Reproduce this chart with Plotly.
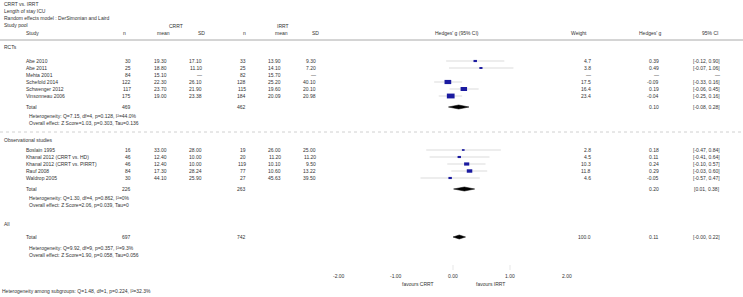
import plotly.graph_objects as go
import math

W, H = 743, 297

# ---------------- data ----------------
title_lines = ["CRRT vs. IRRT", "Length of stay ICU", "Random effects model : DerSimonian and Laird"]

rct_studies = ["Abe 2010", "Abe 2011", "Mehta 2001", "Schefold 2014", "Schwenger 2012", "Vinsonneau 2006"]
rct_crrt_n = [30, 25, 84, 122, 117, 175]
rct_crrt_mean = [19.30, 18.80, 15.10, 22.30, 23.70, 19.00]
rct_crrt_sd = [17.10, 11.10, None, 26.10, 21.90, 23.38]
rct_irrt_n = [33, 25, 82, 128, 115, 184]
rct_irrt_mean = [13.90, 14.10, 15.70, 25.20, 19.60, 20.09]
rct_irrt_sd = [9.30, 7.20, None, 40.10, 20.10, 20.98]
rct_weight = [4.7, 3.8, None, 17.5, 16.4, 23.4]
rct_g = [0.39, 0.49, None, -0.09, 0.19, -0.04]
rct_lo = [-0.12, -0.07, None, -0.33, -0.06, -0.25]
rct_hi = [0.90, 1.06, None, 0.16, 0.45, 0.16]
rct_total = {"crrt_n": 469, "irrt_n": 462, "g": 0.10, "lo": -0.08, "hi": 0.28}
rct_het = "Heterogeneity: Q=7.15, df=4, p=0.128, I²=44.0%"
rct_eff = "Overall effect: Z Score=1.03, p=0.303, Tau=0.136"

obs_studies = ["Boslain 1995", "Khanal 2012 (CRRT vs. HD)", "Khanal 2012 (CRRT vs. PIRRT)", "Rauf 2008", "Waldrop 2005"]
obs_crrt_n = [16, 46, 46, 84, 30]
obs_crrt_mean = [33.00, 12.40, 12.40, 17.30, 44.10]
obs_crrt_sd = [28.00, 10.00, 10.00, 28.24, 25.90]
obs_irrt_n = [19, 20, 119, 77, 27]
obs_irrt_mean = [26.00, 11.20, 10.10, 10.60, 45.63]
obs_irrt_sd = [25.00, 11.20, 9.50, 13.22, 39.50]
obs_weight = [2.8, 4.5, 10.3, 11.8, 4.6]
obs_g = [0.18, 0.11, 0.24, 0.29, -0.05]
obs_lo = [-0.47, -0.41, -0.10, -0.03, -0.57]
obs_hi = [0.84, 0.64, 0.57, 0.60, 0.47]
obs_total = {"crrt_n": 226, "irrt_n": 263, "g": 0.20, "lo": 0.01, "hi": 0.38}
obs_het = "Heterogeneity: Q=1.30, df=4, p=0.862, I²=0%"
obs_eff = "Overall effect: Z Score=2.06, p=0.039, Tau=0"

all_total = {"crrt_n": 697, "irrt_n": 742, "weight": 100.0, "g": 0.11, "lo": -0.00, "hi": 0.22}
all_het = "Heterogeneity: Q=9.92, df=9, p=0.357, I²=9.3%"
all_eff = "Overall effect: Z Score=1.90, p=0.058, Tau=0.056"
subgroup_het = "Heterogeneity among subgroups: Q=1.48, df=1, p=0.224, I²=32.3%"

axis_ticks = [-2, -1, 0, 1, 2]
favour_labels = ["favours CRRT", "favours IRRT"]

# ---------------- layout helpers ----------------
FONT = "Liberation Sans, Arial, sans-serif"
FS = 5
TXT = "#333333"
PX0 = 453.0       # pixel of effect 0
PXU = 57.0        # pixels per unit effect

annotations = []
shapes = []


def txt(xp, yp, s, anchor="left", size=FS, color=TXT):
    annotations.append(dict(
        x=xp / W, xref="paper", y=yp, yref="y", text=s, showarrow=False,
        xanchor=anchor, yanchor="middle", font=dict(family=FONT, size=size, color=color)))


def f2(v):
    return "—" if v is None else f"{v:.2f}"


def f1(v):
    return "—" if v is None else f"{v:.1f}"


def fn(v):
    return "—" if v is None else str(v)


def ci(lo, hi):
    if lo is None:
        return "—"
    return f"[{lo:.2f}, {hi:.2f}]"


# column x positions (pixels)
C_STUDY = 24
C_N1, C_M1, C_S1 = 133, 169, 204
C_N2, C_M2, C_S2 = 248, 283, 318
C_W, C_G, C_CI = 593, 661, 722

# header
for i, t in enumerate(title_lines):
    txt(2, 4 + 7 * i, t)
txt(2, 25, "Study pool")
txt(176, 26, "CRRT", "center")
txt(283, 26, "IRRT", "center")
txt(C_STUDY, 33, "Study")
txt(C_N1 - 8, 33, "n", "center")
txt(C_M1 - 6, 33, "mean", "center")
txt(C_S1 - 3, 33, "SD", "center")
txt(C_N2 - 3, 33, "n", "center")
txt(C_M2 - 2, 33, "mean", "center")
txt(C_S2 - 3, 33, "SD", "center")
txt(457, 33, "Hedges' g (95% CI)", "center")
txt(579, 33, "Weight", "center")
txt(650, 33, "Hedges' g", "center")
txt(710, 33, "95% CI", "center")
shapes.append(dict(type="line", xref="paper", yref="y", x0=0, x1=1, y0=40, y1=40,
                   line=dict(color="#aaaaaa", width=1)))

fig = go.Figure()
ci_x, ci_y = [], []


def study_rows(names, cn, cm, cs, inn, im, isd, w, g, lo, hi, y0):
    for i, name in enumerate(names):
        y = y0 + 7 * i
        txt(C_STUDY, y, name)
        txt(C_N1, y, fn(cn[i]), "right")
        txt(C_M1, y, f2(cm[i]), "right")
        txt(C_S1, y, f2(cs[i]), "right")
        txt(C_N2, y, fn(inn[i]), "right")
        txt(C_M2, y, f2(im[i]), "right")
        txt(C_S2, y, f2(isd[i]), "right")
        txt(C_W, y, f1(w[i]), "right")
        txt(C_G, y, f2(g[i]), "right")
        txt(C_CI, y, ci(lo[i], hi[i]), "right")
        if g[i] is not None:
            ci_x.extend([lo[i], hi[i], None])
            ci_y.extend([y, y, None])
            half_w = 0.5 * 1.6 * math.sqrt(w[i]) / PXU
            half_h = 0.5 * 1.0 * math.sqrt(w[i])
            shapes.append(dict(type="rect", xref="x", yref="y",
                               x0=g[i] - half_w, x1=g[i] + half_w,
                               y0=y - half_h, y1=y + half_h,
                               line=dict(width=0), fillcolor="#1a1aa0", layer="above"))


def total_row(tot, y, weight=None):
    txt(C_STUDY, y, "Total")
    txt(C_N1, y, str(tot["crrt_n"]), "right")
    txt(C_N2, y, str(tot["irrt_n"]), "right")
    if weight is not None:
        txt(C_W, y, f1(weight), "right")
    txt(C_G, y, f2(tot["g"]), "right")
    txt(C_CI, y, ci(tot["lo"], tot["hi"]), "right")
    fig.add_trace(go.Scatter(
        x=[tot["lo"], tot["g"], tot["hi"], tot["g"], tot["lo"]],
        y=[y, y - 2, y, y + 2, y], fill="toself", fillcolor="#000000",
        mode="lines", line=dict(color="#000000", width=0.5), hoverinfo="skip"))


# RCTs
txt(2, 47, "RCTs")
study_rows(rct_studies, rct_crrt_n, rct_crrt_mean, rct_crrt_sd, rct_irrt_n, rct_irrt_mean,
           rct_irrt_sd, rct_weight, rct_g, rct_lo, rct_hi, 61)
total_row(rct_total, 107)
txt(27, 116, rct_het)
txt(27, 123, rct_eff)
shapes.append(dict(type="line", xref="paper", yref="y", x0=0, x1=1, y0=132, y1=132,
                   line=dict(color="#d0d0d0", width=1, dash="3px,3px")))

# Observational
txt(2, 140, "Observational studies")
study_rows(obs_studies, obs_crrt_n, obs_crrt_mean, obs_crrt_sd, obs_irrt_n, obs_irrt_mean,
           obs_irrt_sd, obs_weight, obs_g, obs_lo, obs_hi, 150)
total_row(obs_total, 189)
txt(27, 198, obs_het)
txt(27, 205, obs_eff)

# All
txt(2, 224, "All")
total_row(all_total, 237, all_total["weight"])
txt(27, 248, all_het)
txt(27, 255, all_eff)

txt(0, 291, subgroup_het)

# CI lines
fig.add_trace(go.Scatter(x=ci_x, y=ci_y, mode="lines",
                         line=dict(color="#cccccc", width=0.7), hoverinfo="skip"))
fig.data = (fig.data[-1],) + fig.data[:-1]

# axis tick labels and small tick marks
for v in axis_ticks:
    annotations.append(dict(x=v, xref="x", y=276, yref="y", text=f"{v:.2f}", showarrow=False,
                            xanchor="center", yanchor="middle",
                            font=dict(family=FONT, size=FS, color=TXT)))
for v in [0, 1]:
    shapes.append(dict(type="line", xref="x", yref="y", x0=v, x1=v, y0=265, y1=270,
                       line=dict(color="#dddddd", width=0.7)))
annotations.append(dict(x=-0.62, xref="x", y=284, yref="y", text=favour_labels[0], showarrow=False,
                        xanchor="center", yanchor="middle", font=dict(family=FONT, size=FS, color=TXT)))
annotations.append(dict(x=0.65, xref="x", y=284, yref="y", text=favour_labels[1], showarrow=False,
                        xanchor="center", yanchor="middle", font=dict(family=FONT, size=FS, color=TXT)))

fig.update_layout(
    width=W, height=H, margin=dict(l=0, r=0, t=0, b=0),
    paper_bgcolor="white", plot_bgcolor="white", showlegend=False,
    xaxis=dict(range=[-PX0 / PXU, (W - PX0) / PXU], visible=False, fixedrange=True),
    yaxis=dict(range=[H, 0], visible=False, fixedrange=True),
    annotations=annotations, shapes=shapes,
)
fig.write_html("out.html", config={"displayModeBar": False},
               post_script="document.body.style.margin='0';document.body.style.overflow='hidden';")
